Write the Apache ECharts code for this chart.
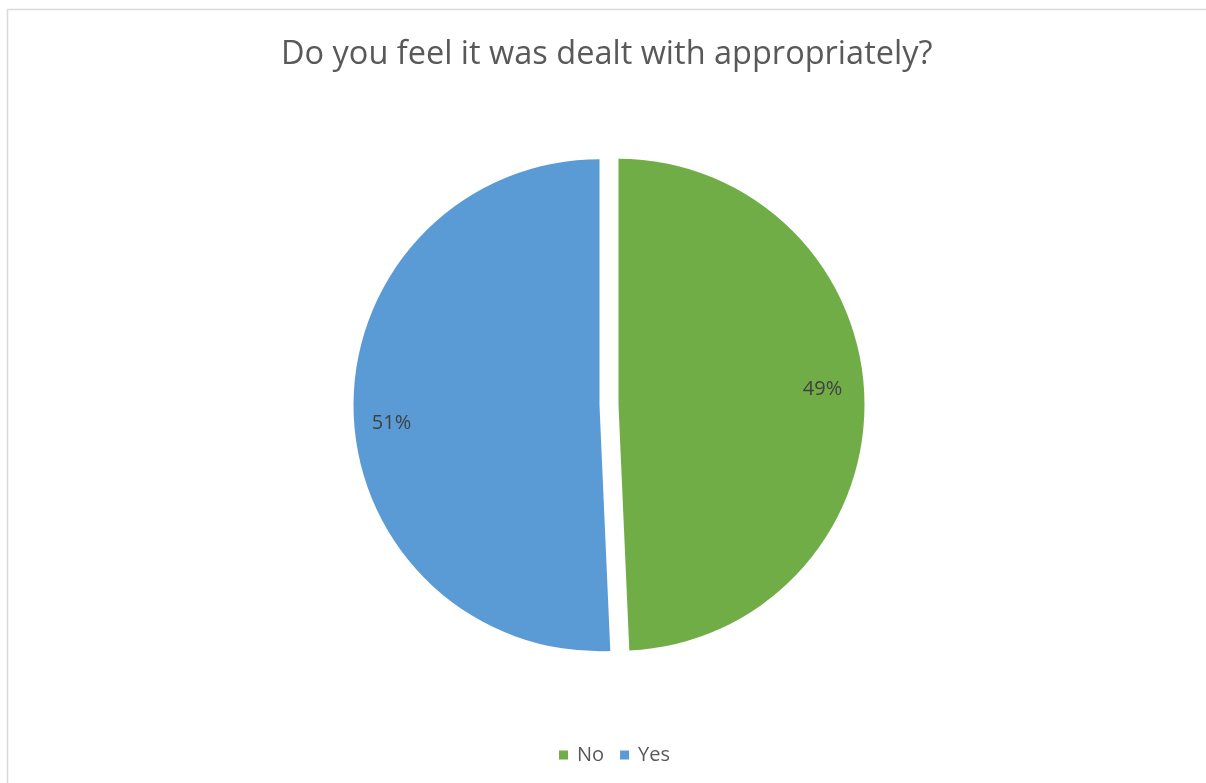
<!DOCTYPE html>
<html>
<head>
<meta charset="utf-8">
<script src="https://cdn.jsdelivr.net/npm/echarts@6/dist/echarts.min.js"></script>
<style>
html,body{margin:0;padding:0;background:#fff;}
#c{width:1206px;height:783px;}
</style>
</head>
<body>
<div id="c"></div>
<script>
const titleText = 'Do you feel it was dealt with appropriately?';
const categories = ['No', 'Yes'];
const values = [49.3, 50.7];
const colors = ['#70AD47', '#5B9BD5'];
// horizontal label push toward the rim [top, right, bottom, left]
const labelPaddings = [[0, 0, 0, 156], [0, 164, 0, 0]];
// vertical nudge: blank line after (up) or before (down) the value
const labelLineHeights = [26, 30];
const labelBlankBefore = [false, true];

const chart = echarts.init(document.getElementById('c'), null, {renderer: 'canvas'});
const data = categories.map((name, i) => ({
  name: name,
  value: values[i],
  selected: true,
  itemStyle: {color: colors[i]},
  label: {padding: labelPaddings[i], lineHeight: labelLineHeights[i]}
}));

chart.setOption({
  animation: false,
  backgroundColor: '#ffffff',
  title: {
    text: titleText,
    left: 276,
    top: 33,
    textStyle: {fontFamily: 'Open Sans', fontSize: 32.5, fontWeight: 'normal', color: '#595959'}
  },
  legend: {
    data: categories,
    bottom: 13,
    left: 554,
    icon: 'rect',
    itemWidth: 9,
    itemHeight: 9,
    itemGap: 16,
    selectedMode: false,
    textStyle: {fontFamily: 'Open Sans', fontSize: 20, color: '#595959', padding: [0, 0, 0, 4]}
  },
  graphic: [{
    type: 'rect',
    shape: {x: 7.5, y: 9.5, width: 1220, height: 800},
    style: {fill: 'none', stroke: '#d9d9d9', lineWidth: 1.5},
    silent: true,
    z: -10
  }],
  series: [{
    type: 'pie',
    center: [609, 405],
    radius: [0, 246],
    startAngle: 90,
    clockwise: true,
    selectedMode: 'multiple',
    selectedOffset: 9.5,
    avoidLabelOverlap: false,
    label: {
      show: true,
      position: 'inside',
      formatter: function (p) {
        const t = Math.round(p.percent) + '%';
        return labelBlankBefore[p.dataIndex] ? '\n' + t : t + '\n';
      },
      fontFamily: 'Open Sans',
      fontSize: 20,
      color: '#404040'
    },
    labelLine: {show: false},
    emphasis: {disabled: true},
    itemStyle: {borderWidth: 0},
    data: data
  }]
});
</script>
</body>
</html>
